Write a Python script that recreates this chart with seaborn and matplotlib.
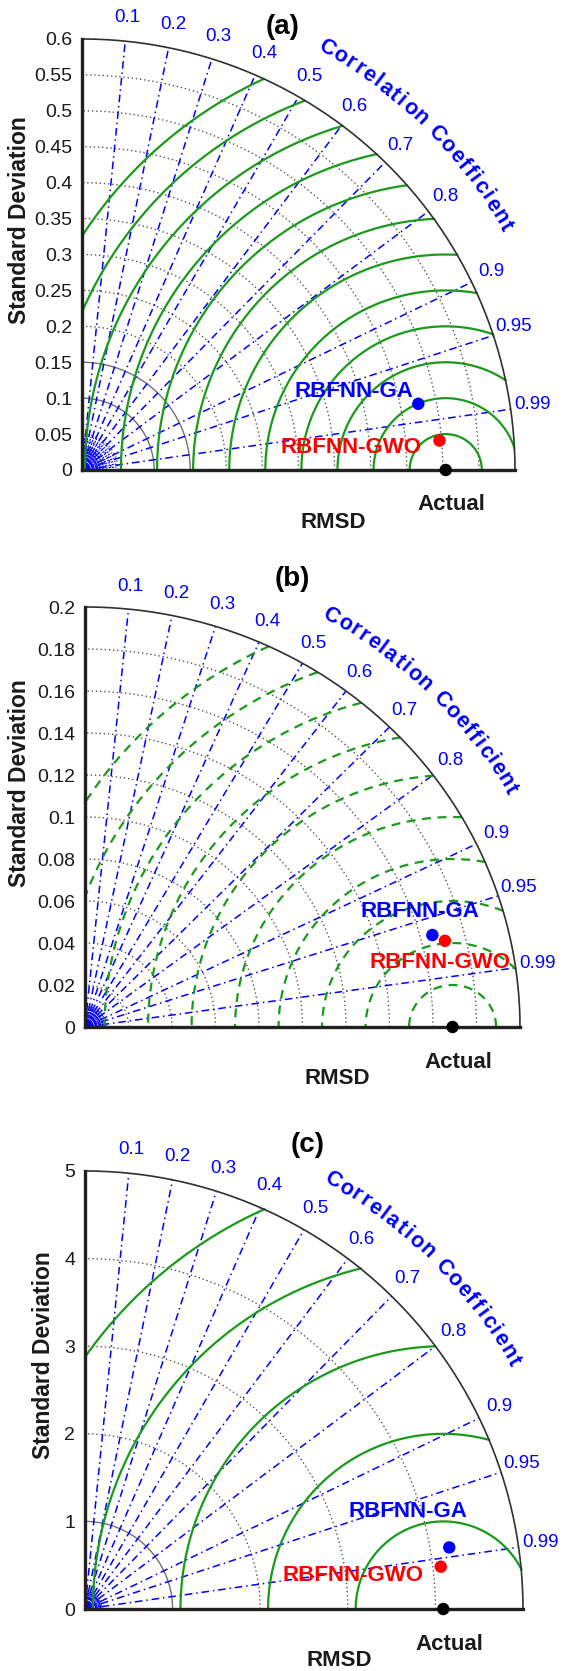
import numpy as np
import pandas as pd
import matplotlib
matplotlib.use("Agg")
import matplotlib.pyplot as plt
import seaborn as sns
from matplotlib.textpath import TextToPath
from matplotlib.font_manager import FontProperties

# ---- data ----
panel_names = ["(a)", "(b)", "(c)"]
models = ["RBFNN-GA", "RBFNN-GWO"]
ref_std = [0.504, 0.169, 4.09]          # "Actual"
ga_std = [0.475, 0.1656, 4.217]
ga_corr = [0.981, 0.9644, 0.986]
gwo_std = [0.497, 0.1705, 4.09]
gwo_corr = [0.9966, 0.9706, 0.993]
max_std = [0.6, 0.2, 5.0]
std_step = [0.05, 0.02, 1.0]
rmsd_step = [0.05, 0.02, 1.0]
corr_ticks = [0.1, 0.2, 0.3, 0.4, 0.5, 0.6, 0.7, 0.8, 0.9, 0.95, 0.99]

# ---- layout (pixels on the 563x1671 canvas) ----
W, H = 563, 1671
layout = [
    dict(ox=82, oy=470, rx=433, ry=431, title=(283, 27), ylab_x=20, fan=0.08,
         solid=[0.1, 0.15], dashed=False, ga_txt=(0.377, 0.109), gwo_txt=(0.373, 0.032)),
    dict(ox=85, oy=1027, rx=435, ry=420, title=(292, 579), ylab_x=20, fan=0.05,
         solid=[], dashed=True, ga_txt=(0.154, 0.0549), gwo_txt=(0.163, 0.0306)),
    dict(ox=85, oy=1609, rx=438, ry=438, title=(308, 1145), ylab_x=44, fan=0.04,
         solid=[1.0], dashed=False, ga_txt=(3.69, 1.11), gwo_txt=(3.06, 0.377)),
]

sns.set_style("white")
plt.rcParams["font.family"] = ["Liberation Sans", "DejaVu Sans"]

BLUE = "#0000ff"
RED = "#ff0000"
GREEN = "#1a9a1a"
TXT = "#1a1a1a"

fig = plt.figure(figsize=(W / 100, H / 100), dpi=100)

title_word = "Correlation Coefficient"
bold = FontProperties(family="Liberation Sans", weight="bold", size=15.5)
t2p = TextToPath()
widths = []
for ch in title_word:
    w, _, _ = t2p.get_text_width_height_descent(ch if ch != " " else "n", bold, ismath=False)
    widths.append(w * (0.45 if ch == " " else 1.0))
widths = np.array(widths)
centers = np.cumsum(widths) - widths / 2 + np.arange(len(widths)) * widths.mean() * 0.3
centers = (centers - centers[0]) / (centers[-1] - centers[0])

for i, lay in enumerate(layout):
    R = max_std[i]
    ref = ref_std[i]
    ax = fig.add_axes([lay["ox"] / W, 1 - lay["oy"] / H, lay["rx"] / W, lay["ry"] / H])
    ax.set_xlim(0, R)
    ax.set_ylim(0, R)
    ax.set_facecolor("none")
    for s in ["top", "right"]:
        ax.spines[s].set_visible(False)
    for s in ["left", "bottom"]:
        ax.spines[s].set_linewidth(2.4)
        ax.spines[s].set_color("#202020")
        ax.spines[s].set_zorder(6)
    ax.set_xticks([])
    yt = np.round(np.arange(0, R + std_step[i] / 2, std_step[i]), 4)
    ax.set_yticks(yt)
    ax.set_yticklabels(["%g" % v for v in yt], fontsize=14, color=TXT)
    ax.tick_params(axis="y", length=0, pad=7)

    th = np.linspace(0, np.pi / 2, 400)
    # outer arc
    ax.plot(R * np.cos(th), R * np.sin(th), color="#303030", lw=1.2, clip_on=False, zorder=5)
    # std dev circles
    for s in np.arange(std_step[i], R - std_step[i] / 2, std_step[i]):
        if any(abs(s - v) < 1e-9 for v in lay["solid"]):
            ax.plot(s * np.cos(th), s * np.sin(th), color="#707070", lw=1.0, zorder=2)
        else:
            ax.plot(s * np.cos(th), s * np.sin(th), color="#555555", lw=1.0,
                    ls=(0, (1, 2)), zorder=2)

    # correlation rays and labels
    for c in corr_ticks:
        a = np.arccos(c)
        ax.plot([0, R * np.cos(a)], [0, R * np.sin(a)], color=BLUE, lw=1.1,
                ls=(0, (5, 2.5, 1, 2.5)), zorder=3)
        ax.text(1.05 * R * np.cos(a), 1.05 * R * np.sin(a) + 0.004 * R, "%g" % c,
                color=BLUE, fontsize=13.5, ha="center", va="center", clip_on=False)

    # little fan at the origin
    for a in np.deg2rad(np.arange(0, 91, 5)):
        ax.plot([0, lay["fan"] * R * np.cos(a)], [0, lay["fan"] * R * np.sin(a)],
                color=BLUE, lw=0.8, ls=(0, (2, 1)), zorder=3)
    for fr in [0.012, 0.024, 0.036]:
        ax.plot(fr * R * np.cos(th), fr * R * np.sin(th), color=BLUE, lw=0.9, zorder=3)

    # RMSD contours centred on the reference
    t = np.linspace(0, np.pi, 1200)
    for r in np.arange(rmsd_step[i], R + rmsd_step[i] / 2, rmsd_step[i]):
        x = ref + r * np.cos(t)
        y = r * np.sin(t)
        ok = (x >= 0) & (np.hypot(x, y) <= R * 1.001)
        x = np.where(ok, x, np.nan)
        y = np.where(ok, y, np.nan)
        ax.plot(x, y, color=GREEN, lw=1.6, ls=(0, (4, 3)) if lay["dashed"] else "-", zorder=4)

    # points
    std = [ga_std[i], gwo_std[i]]
    cor = [ga_corr[i], gwo_corr[i]]
    df = pd.DataFrame({
        "model": models + ["Actual"],
        "x": [s * c for s, c in zip(std, cor)] + [ref],
        "y": [s * np.sin(np.arccos(c)) for s, c in zip(std, cor)] + [0.0],
    })
    sns.scatterplot(data=df, x="x", y="y", hue="model",
                    palette={"RBFNN-GA": BLUE, "RBFNN-GWO": RED, "Actual": "black"},
                    s=80, edgecolor="none", legend=False, ax=ax, clip_on=False, zorder=8)
    ax.set_xlabel("")
    ax.set_ylabel("")

    ax.text(*lay["ga_txt"], "RBFNN-GA", color=BLUE, fontsize=16, fontweight="bold",
            ha="center", va="center", zorder=9)
    ax.text(*lay["gwo_txt"], "RBFNN-GWO", color=RED, fontsize=16, fontweight="bold",
            ha="center", va="center", zorder=9)

    # curved "Correlation Coefficient"
    a0, a1 = np.deg2rad(60.0), np.deg2rad(30.0)
    for ch, f in zip(title_word, centers):
        if ch == " ":
            continue
        a = a0 + (a1 - a0) * f
        ax.text(1.13 * R * np.cos(a), 1.13 * R * np.sin(a), ch, color=BLUE,
                fontproperties=bold, rotation=np.rad2deg(a) - 90,
                rotation_mode="anchor", ha="center", va="center", clip_on=False)

    # labels in pixel space
    ox, oy, rx, ry = lay["ox"], lay["oy"], lay["rx"], lay["ry"]
    fig.text(lay["ylab_x"] / W, 1 - (oy - 0.58 * ry) / H, "Standard Deviation",
             rotation=90, fontsize=16.5, fontweight="bold", color=TXT, ha="center", va="center")
    fig.text((ox + 0.58 * rx) / W, 1 - (oy + 52) / H, "RMSD", fontsize=16,
             fontweight="bold", color=TXT, ha="center", va="center")
    refpx = ox + ref / R * rx
    fig.text((refpx + 6) / W, 1 - (oy + 35) / H, "Actual", fontsize=16,
             fontweight="bold", color=TXT, ha="center", va="center")
    fig.text(lay["title"][0] / W, 1 - lay["title"][1] / H, panel_names[i], fontsize=20,
             fontweight="bold", color="black", ha="center", va="center")

fig.savefig("out.png", dpi=100)
